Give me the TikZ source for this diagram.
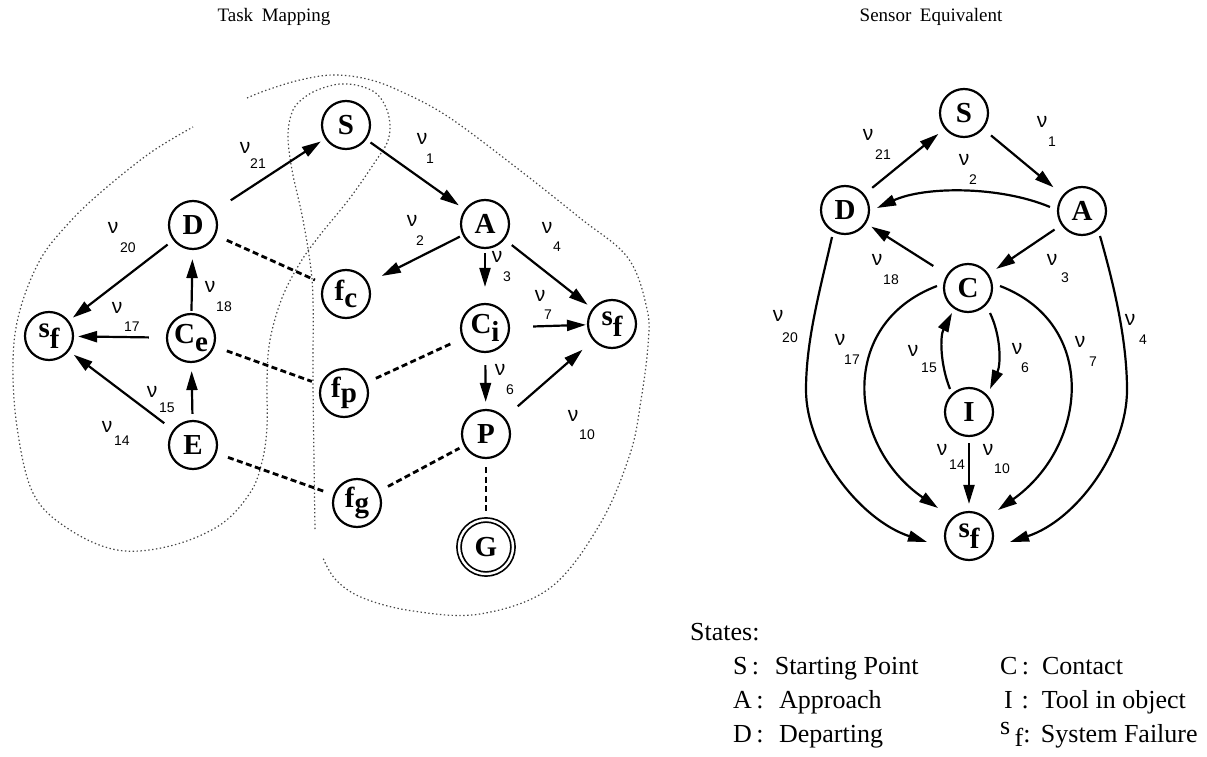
\documentclass[tikz,border=0pt]{standalone}
\usepackage{fontspec}
\setmainfont{Liberation Serif}
\newfontfamily\labelsans{Liberation Sans}
\usetikzlibrary{arrows.meta}

\tikzset{
  state/.style={circle, draw, line width=2.2pt, minimum size=48pt, inner sep=0pt,
                font=\fontsize{29}{29}\selectfont\bfseries},
  goal/.style={circle, draw, line width=1.7pt, double, double distance=2.4pt,
               minimum size=54pt, inner sep=0pt, font=\fontsize{29}{29}\selectfont\bfseries},
  arr/.style={line width=2.2pt, -{Triangle[length=19pt,width=11pt]}},
  fline/.style={line width=2.8pt, dash pattern=on 6pt off 3.5pt},
  cont/.style={line width=1.2pt, black!72, dash pattern=on 1.4pt off 2.5pt},
  nu/.style={font=\labelsans\fontsize{21}{21}\selectfont, inner sep=0pt},
  nunum/.style={font=\labelsans\fontsize{14}{14}\selectfont, inner sep=0pt},
  heading/.style={font=\fontsize{19}{19}\selectfont, inner sep=0pt},
  legend/.style={font=\fontsize{26}{26}\selectfont, inner sep=0pt, anchor=base west}
}
% transition label: nu symbol with its index below right
\newcommand\translabel[4]{%
  \node[nu] (#1) at (#2) {ν};
  \node[nunum] (#1n) at (#3) {#4};}
\newcommand\lowered[2][-0.25em]{\raisebox{#1}{#2}}

\begin{document}
\begin{tikzpicture}[x=1pt, y=-1pt]
\useasboundingbox (0,0) rectangle (1207,757);

% ---------------- headings ----------------
\node[heading] (h1) at (274,17) {Task\hspace{0.45em}Mapping};
\node[heading] (h2) at (931,17) {Sensor\hspace{0.45em}Equivalent};

% ---------------- task mapping: regions ----------------
\draw[cont] plot[smooth, tension=0.6] coordinates {
  (315,529) (314,460) (313,380) (313,300) (310,262) (302,215) (292,170)
  (288,135) (293,110) (305,97) (320,89) (340,84) (360,86) (377,94)
  (387,110) (390,127) (387,143) (375,162) (350,198) (320,235) (300,263)
  (282,298) (270,340) (267,380) (267,427) (262,462) (250,493) (220,525)
  (170,546) (117,550) (67,528) (33,493) (17,427) (13,360) (20,310)
  (40,260) (67,225) (100,193) (150,153) (193,127)};
\draw[cont] plot[smooth, tension=0.6] coordinates {
  (247,98) (267,90) (300,80) (333,75) (367,79) (400,91) (447,116)
  (513,165) (580,218) (628,258) (647,309) (648,345) (641,400) (630,454)
  (600,524) (550,588) (480,614) (413,611) (363,598) (336,580) (323,558)};

% ---------------- task mapping: states ----------------
\node[state] (LS)   at (346,125) {S};
\node[state] (LD)   at (193,225) {D};
\node[state] (LA)   at (485,224) {A};
\node[state] (LsfL) at (49,336)  {s\lowered[-0.38em]{f}};
\node[state] (LCe)  at (191,338) {C\lowered{e}};
\node[state] (Lfc)  at (346,294) {f\lowered{c}};
\node[state] (LCi)  at (485,328) {C\lowered{i}};
\node[state] (LsfR) at (612,324) {s\lowered[-0.38em]{f}};
\node[state] (Lfp)  at (344,393) {f\lowered[-0.15em]{p}};
\node[state] (LE)   at (193,445) {E};
\node[state] (LP)   at (486,434) {P};
\node[state] (Lfg)  at (357,503) {f\lowered[-0.15em]{g}};
\node[goal]  (LG)   at (486,547) {G};

% transitions
\draw[arr, shorten <=20pt, shorten >=5pt]  (LD)  -- (LS);
\draw[arr, shorten <=5pt,  shorten >=7pt]  (LS)  -- (LA);
\draw[arr, shorten <=7pt,  shorten >=5pt]  (LD)  -- (LsfL);
\draw[arr, shorten <=2pt,  shorten >=9pt]  (LCe) -- (LD);
\draw[arr, shorten <=17pt, shorten >=4pt]  (LCe) -- (LsfL);
\draw[arr, shorten <=6pt,  shorten >=8pt]  (LE)  -- (LCe);
\draw[arr, shorten <=11pt, shorten >=6pt]  (LE)  -- (LsfL);
\draw[arr, shorten <=3pt,  shorten >=15pt] (LA)  -- (Lfc);
\draw[arr, shorten <=4pt,  shorten >=16pt] (LA)  -- (LCi);
\draw[arr, shorten <=9pt,  shorten >=6pt]  (LA)  -- (LsfR);
\draw[arr, shorten <=23pt, shorten >=1pt]  (LCi) -- (LsfR);
\draw[arr, shorten <=12pt, shorten >=7pt]  (LCi) -- (LP);
\draw[arr, shorten <=17pt, shorten >=14pt] (LP)  -- (LsfR);

% sensor failure links
\draw[fline, shorten <=12pt, shorten >=9pt]  (LD)  -- (Lfc);
\draw[fline, shorten <=13pt, shorten >=9pt]  (LCe) -- (Lfp);
\draw[fline, shorten <=12pt, shorten >=9pt]  (LE)  -- (Lfg);
\draw[fline, shorten <=10pt, shorten >=10pt] (Lfp) -- (LCi);
\draw[fline, shorten <=10pt, shorten >=5pt]  (Lfg) -- (LP);
\draw[fline, shorten <=8pt,  shorten >=8pt]  (LP)  -- (LG);

% labels
\translabel{Ln21}{245,148}{258,164}{21}
\translabel{Ln1}{422,139}{430,159}{1}
\translabel{Ln20}{113,228}{128,248}{20}
\translabel{Ln18}{210,287}{224,307}{18}
\translabel{Ln17}{117,308}{132,327}{17}
\translabel{Ln15}{152,392}{167,408}{15}
\translabel{Ln14}{107,427}{122,441}{14}
\translabel{Ln2}{412,221}{420,241}{2}
\translabel{Ln3}{497,257}{507,277}{3}
\translabel{Ln4}{547,228}{557,247}{4}
\translabel{Ln7}{540,296}{548,315}{7}
\translabel{Ln6}{500,370}{510,390}{6}
\translabel{Ln10}{573,416}{587,435}{10}

% ---------------- sensor equivalent ----------------
\node[state] (RS) at (964,113) {S};
\node[state] (RD) at (845,210) {D};
\node[state] (RA) at (1082,211) {A};
\node[state] (RC) at (968,288) {C};
\node[state] (RI) at (969,412) {I};
\node[state] (RF) at (969,536) {s\lowered[-0.38em]{f}};

\draw[arr, shorten <=10pt, shorten >=8pt]  (RD) -- (RS);
\draw[arr, shorten <=10pt, shorten >=12pt] (RS) -- (RA);
\draw[arr, shorten <=8pt,  shorten >=9pt]  (RA) -- (RC);
\draw[arr, shorten <=16pt, shorten >=6pt]  (RC) -- (RD);
\draw[arr, shorten <=6pt,  shorten >=7pt]  (RI) -- (RF);
\draw[arr] ([shift={(-32,-4)}]RA.center) .. controls +(-50,-21) and +(48,-22) .. ([shift={(32,-2)}]RD.center);
\draw[arr] ([shift={(22,25)}]RC.center) .. controls +(11,23) and +(11,-25) .. ([shift={(21,-23)}]RI.center);
\draw[arr] ([shift={(-19,-23)}]RI.center) .. controls +(-10,-25) and +(-12,23) .. ([shift={(-16,25)}]RC.center);
\draw[arr] ([shift={(-31,-2)}]RC.center) .. controls +(-100,38) and +(-90,-62) .. ([shift={(-31,-28)}]RF.center);
\draw[arr] ([shift={(32,-2)}]RC.center) .. controls +(99,38) and +(90,-64) .. ([shift={(29,-26)}]RF.center);
\coordinate (dbend) at (806,390);
\coordinate (abend) at (1127,390);
\draw[arr] ([shift={(-13,27)}]RD.center) .. controls +(-12,53) and +(0,-50) .. (dbend)
           .. controls +(0,60) and +(-67,-22) .. ([shift={(-42,6)}]RF.center);
\draw[arr] ([shift={(18,25)}]RA.center) .. controls +(14,49) and +(0,-50) .. (abend)
           .. controls +(0,60) and +(67,-22) .. ([shift={(41,6)}]RF.center);

\translabel{Rn21}{868,135}{883,155}{21}
\translabel{Rn1}{1042,122}{1052,142}{1}
\translabel{Rn2}{964,160}{973,180}{2}
\translabel{Rn18}{877,260}{891,280}{18}
\translabel{Rn3}{1052,260}{1065,278}{3}
\translabel{Rn20}{778,316}{790,338}{20}
\translabel{Rn17}{840,340}{852,360}{17}
\translabel{Rn15}{913,351}{929,368}{15}
\translabel{Rn6}{1017,349}{1025,368}{6}
\translabel{Rn7}{1080,342}{1093,362}{7}
\translabel{Rn4}{1130,320}{1143,340}{4}
\translabel{Rn14}{942,450}{957,465}{14}
\translabel{Rn10}{988,450}{1002,469}{10}

% ---------------- legend ----------------
\node[legend] (lgT) at (690,640) {States:};
\node[legend] (lgS) at (733,674) {S\,:\hspace{0.6em}Starting Point};
\node[legend] (lgA) at (733,708) {A\,:\hspace{0.6em}Approach};
\node[legend] (lgD) at (733,742) {D\,:\hspace{0.6em}Departing};
\node[legend] (lgC) at (1000,674) {C\,:\hspace{0.5em}Contact};
\node[legend] (lgI) at (1004,708) {I\,\,:\hspace{0.5em}Tool in object};
\node[legend] (lgF) at (1000,742) {\raisebox{0.3em}{s}\,\raisebox{-0.18em}{f}:\hspace{0.4em}System Failure};
\end{tikzpicture}
\end{document}
